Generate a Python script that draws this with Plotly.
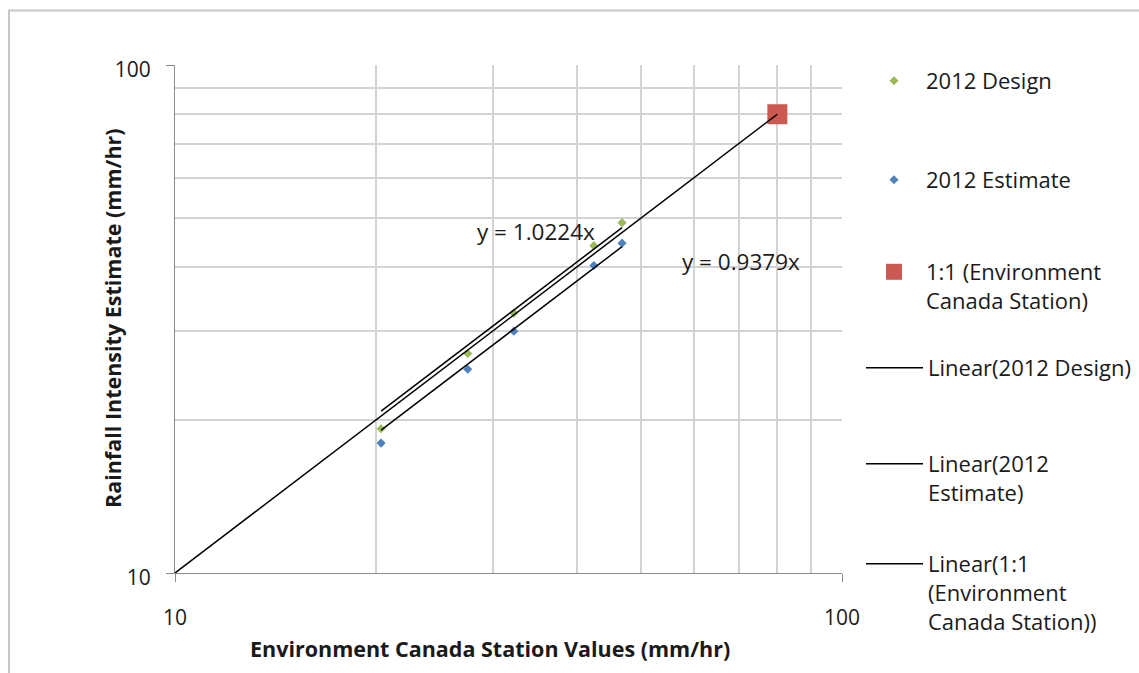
import plotly.graph_objects as go

# Rainfall intensity (mm/hr): station values vs 2012 design / estimate curves
station_x = [20.37, 27.47, 32.21, 42.46, 46.80]
design_y = [19.23, 27.04, 32.47, 44.10, 48.94]
estimate_y = [18.02, 25.19, 29.93, 40.29, 44.60]
one_to_one_x = [80.0]
one_to_one_y = [80.0]

design_slope = 1.0224
estimate_slope = 0.9379
axis_min, axis_max = 10, 100
minor_grid = [20, 30, 40, 50, 60, 70, 80, 90]

FONT = "Open Sans"
TEXT = "#1a1a1a"

# pixel geometry of the page
W, H = 1139, 673
ML, MR, MT, MB = 175, 297, 65, 100
PW, PH = W - ML - MR, H - MT - MB


def px(xp):
    return (xp - ML) / PW


def py(yp):
    return (H - MB - yp) / PH


fig = go.Figure()

# scatter series
fig.add_trace(go.Scatter(
    x=station_x, y=design_y, mode="markers", name="2012 Design",
    marker=dict(symbol="diamond", size=7, color="#9BBB59"), legend="legend"))
fig.add_trace(go.Scatter(
    x=station_x, y=estimate_y, mode="markers", name="2012 Estimate",
    marker=dict(symbol="diamond", size=7, color="#4F81BD"), legend="legend2"))
fig.add_trace(go.Scatter(
    x=one_to_one_x, y=one_to_one_y, mode="markers",
    name="1:1 (Environment<br>Canada Station)",
    marker=dict(symbol="square", size=20, color="#CD5A52"), legend="legend3"))

# linear trendlines through the origin
x0, x1 = min(station_x), max(station_x)
fig.add_trace(go.Scatter(
    x=[x0, x1], y=[design_slope * x0, design_slope * x1], mode="lines",
    name="Linear(2012 Design)", line=dict(color="#000000", width=1.5),
    legend="legend4"))
fig.add_trace(go.Scatter(
    x=[x0, x1], y=[estimate_slope * x0, estimate_slope * x1], mode="lines",
    name="Linear(2012<br>Estimate)", line=dict(color="#000000", width=1.5),
    legend="legend5"))
fig.add_trace(go.Scatter(
    x=[axis_min, one_to_one_x[0]], y=[axis_min, one_to_one_y[0]], mode="lines",
    name="Linear(1:1<br>(Environment<br>Canada Station))",
    line=dict(color="#000000", width=1.5), legend="legend6"))

axis_common = dict(
    type="log", range=[1, 2],
    tickvals=[axis_min, axis_max], ticktext=[str(axis_min), str(axis_max)],
    showgrid=True, gridcolor="#d3d3d3", gridwidth=1.5,
    showline=True, linecolor="#8c8c8c", linewidth=1.2,
    ticks="outside", ticklen=8, tickcolor="#8c8c8c", tickwidth=1.2,
    tickfont=dict(family=FONT, size=21, color=TEXT),
    minor=dict(tickvals=minor_grid, showgrid=True, gridcolor="#d3d3d3",
               gridwidth=1.5, ticks=""),
    zeroline=False, fixedrange=True,
)

legend_common = dict(
    font=dict(family=FONT, size=22, color=TEXT), bgcolor="rgba(0,0,0,0)",
    borderwidth=0, xanchor="left", yanchor="top", valign="top",
    xref="container", yref="container",
    itemclick=False, itemdoubleclick=False,
)

legend_first_line = [80, 179, 271, 367, 463, 563]
legends = {}
for i, yc in enumerate(legend_first_line):
    key = "legend" if i == 0 else f"legend{i + 1}"
    is_line = i >= 3
    legends[key] = dict(
        legend_common,
        x=(861 if is_line else 862) / W, y=1 - (yc - 20) / H,
        itemwidth=57 if is_line else 54,
    )

fig.update_layout(
    width=W, height=H,
    margin=dict(l=ML, r=MR, t=MT, b=MB, autoexpand=False),
    paper_bgcolor="white", plot_bgcolor="white",
    showlegend=True,
    xaxis=dict(axis_common, ticklabelstandoff=18),
    yaxis=dict(axis_common, ticklabelstandoff=11, ticklabelshift=5),
    annotations=[
        dict(text="Environment Canada Station Values (mm/hr)", xref="paper",
             yref="paper", x=px(490), y=py(648), xanchor="center",
             yanchor="middle", showarrow=False,
             font=dict(family=FONT, size=21.5, color=TEXT, weight="bold")),
        dict(text="Rainfall Intensity Estimate (mm/hr)", xref="paper",
             yref="paper", x=px(112), y=py(318), xanchor="center",
             yanchor="middle", textangle=-90, showarrow=False,
             font=dict(family=FONT, size=21.5, color=TEXT, weight="bold")),
        dict(text=f"y = {design_slope:.4f}x", xref="x", yref="y",
             x=1.5412, y=1.6719, xanchor="center", yanchor="middle",
             showarrow=False, font=dict(family=FONT, size=22.5, color=TEXT)),
        dict(text=f"y = {estimate_slope:.4f}x", xref="x", yref="y",
             x=1.8486, y=1.6128, xanchor="center", yanchor="middle",
             showarrow=False, font=dict(family=FONT, size=22.5, color=TEXT)),
    ],
    shapes=[
        dict(type="rect", xref="paper", yref="paper",
             x0=px(9), x1=px(1160), y0=py(700), y1=py(10.5),
             line=dict(color="#c6c6c6", width=2), fillcolor="rgba(0,0,0,0)",
             layer="below"),
    ],
    **legends,
)

fig.write_html("out.html")
